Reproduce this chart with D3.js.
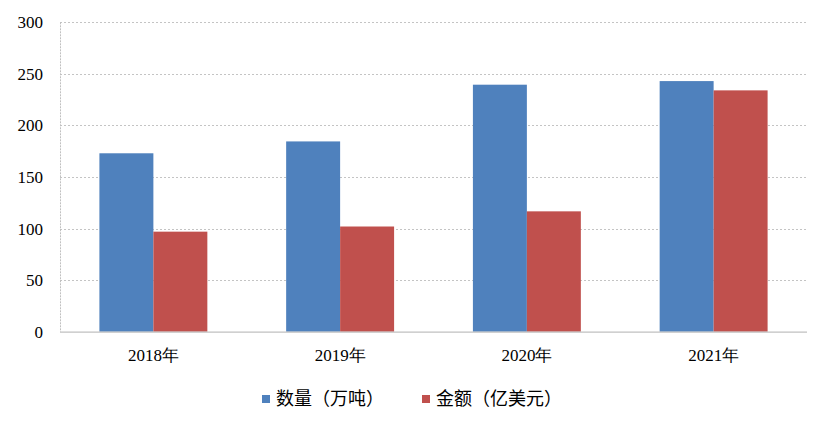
<!DOCTYPE html>
<html><head><meta charset="utf-8">
<script src="https://cdn.jsdelivr.net/npm/d3@7"></script>
<style>body{margin:0;background:#fff}svg{display:block}</style>
</head><body>
<svg id="c" width="830" height="429"></svg>
<script>
const categories = ["2018年","2019年","2020年","2021年"];
const seriesNames = ["数量（万吨）","金额（亿美元）"];
const quantity = [173, 184.5, 239.5, 243];
const amount = [97, 102, 116.7, 234];
const yTicks = [0,50,100,150,200,250,300];
const colors = ["#4F81BD","#C0504D"];
const SERIF = "Liberation Serif, DejaVu Serif, serif";

const svg = d3.select("#c");
const m = {left:60, right:807, top:22.3, bottom:331.7};
const x = d3.scaleBand().domain(categories).range([m.left, m.right]).paddingInner(0).paddingOuter(0);
const xs = d3.scaleBand().domain([0,1]).range([0, x.bandwidth()]).paddingInner(0).paddingOuter(0.73);
const y = d3.scaleLinear().domain([0,300]).range([m.bottom, m.top]);

// gridlines
svg.append("g").selectAll("line").data(yTicks.filter(d=>d>0)).join("line")
  .attr("x1", m.left).attr("x2", m.right)
  .attr("y1", d=>Math.round(y(d))+0.5).attr("y2", d=>Math.round(y(d))+0.5)
  .attr("stroke","#c4c4c4").attr("stroke-width",1).attr("stroke-dasharray","2,2");
// y axis line
svg.append("line").attr("x1",m.left+0.5).attr("x2",m.left+0.5).attr("y1",m.top).attr("y2",m.bottom)
  .attr("stroke","#c0c0c0").attr("stroke-dasharray","2,1");

// y axis labels
const yAxis = d3.axisLeft(y).tickValues(yTicks).tickSize(0).tickPadding(17);
const gy = svg.append("g").attr("transform",`translate(${m.left},0)`).call(yAxis)
  .attr("font-family", SERIF).attr("font-size", 17);
gy.select(".domain").remove();
gy.selectAll("text").style("font-family", SERIF).style("font-size","17px").attr("fill","#000");

// bars
const data = categories.map((c,i)=>({c, vals:[quantity[i], amount[i]]}));
const groups = svg.append("g").selectAll("g").data(data).join("g")
  .attr("transform", d=>`translate(${x(d.c)},0)`);
groups.selectAll("rect").data(d=>d.vals.map((v,k)=>({v,k}))).join("rect")
  .attr("x", d=>xs(d.k)).attr("width", xs.bandwidth())
  .attr("y", d=>y(d.v)).attr("height", d=>y(0)-y(d.v))
  .attr("fill", d=>colors[d.k]);

// bottom axis line
svg.append("line").attr("x1",m.left).attr("x2",m.right).attr("y1",m.bottom+0.5).attr("y2",m.bottom+0.5)
  .attr("stroke","#c0c0c0").attr("stroke-width",1.2);

// x axis labels
const xAxis = d3.axisBottom(x).tickSize(0).tickPadding(17);
const gx = svg.append("g").attr("transform",`translate(0,${m.bottom})`).call(xAxis)
  .attr("font-family", SERIF).attr("font-size", 17);
gx.select(".domain").remove();
gx.selectAll("text").style("font-family", SERIF).style("font-size","17px").attr("fill","#000");

// legend
const legendX = [262, 422];
const lg = svg.append("g").selectAll("g").data(seriesNames).join("g")
  .attr("transform",(d,i)=>`translate(${legendX[i]},399)`);
lg.append("rect").attr("x",0).attr("y",-4).attr("width",8).attr("height",8).attr("fill",(d,i)=>colors[i]);
lg.append("text").attr("x",14).attr("y",0).attr("dy","0.36em")
  .style("font-family","Noto Sans CJK SC, sans-serif").style("font-size","18px").attr("fill","#000")
  .text(d=>d);
</script>
</body></html>
